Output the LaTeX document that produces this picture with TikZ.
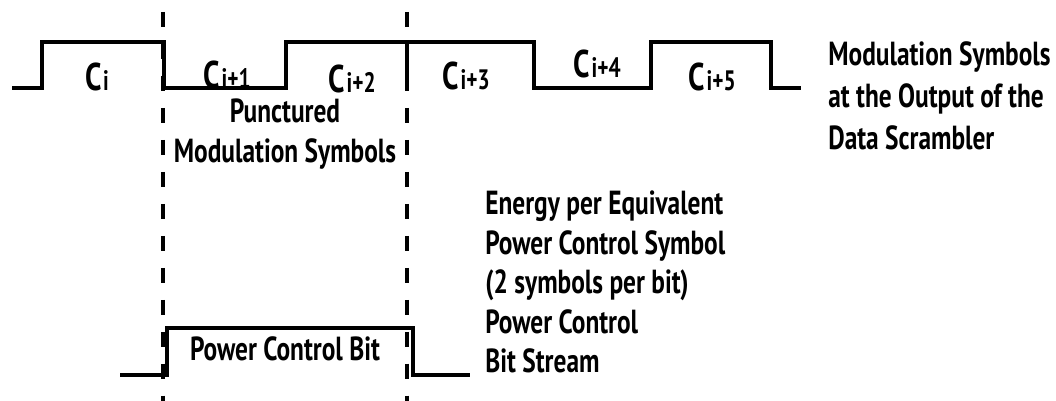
\documentclass[tikz,border=0pt]{standalone}
\usepackage{fontspec}
\setmainfont{PT Sans}[FakeStretch=0.76]
\newcommand{\modsym}[1]{C\kern1pt{\fontsize{16}{16}\selectfont #1}}
\begin{document}
\begin{tikzpicture}[
    x=0.02cm, y=-0.02cm,
    wave/.style={line width=2.3pt, line join=miter},
    cut/.style={line width=1.8pt, dash pattern=on 8.5pt off 9.7pt},
    lbl/.style={font=\bfseries\fontsize{19}{22.5}\selectfont, inner sep=0pt, align=left},
    sym/.style={font=\bfseries\fontsize{22}{22}\selectfont, inner sep=0pt}
]
\useasboundingbox (0,0) rectangle (1056,401);

% symbol boundaries
\coordinate (cutLtop) at (163,12);
\coordinate (cutLbot) at (163,401);
\coordinate (cutRtop) at (407,12);
\coordinate (cutRbot) at (407,401);
\draw[cut] (cutLtop) -- (cutLbot);
\draw[cut] (cutRtop) -- (cutRbot);
\draw[wave] (407,42) -- (407,88);

% modulation symbols
\draw[wave] (12,88) -- (42,88) -- (42,42) -- (164,42) -- (164,88) -- (286,88) -- (286,42)
  -- (534,42) -- (534,88) -- (651,88) -- (651,42) -- (771,42) -- (771,88) -- (801,88);
\node[sym] (ci) at (97,77) {\modsym{i}};
\node[sym] (ci1) at (227,75) {\modsym{i+1}};
\node[sym] (ci2) at (352,79) {\modsym{i+2}};
\node[sym] (ci3) at (466,76) {\modsym{i+3}};
\node[sym] (ci4) at (597,64) {\modsym{i+4}};
\node[sym] (ci5) at (712,77) {\modsym{i+5}};
\node[lbl, anchor=west, font=\bfseries\fontsize{19}{24}\selectfont] (scrambler) at (828,96) {Modulation Symbols\\at the Output of the\\Data Scrambler};
\node[lbl, align=center] (punct) at (285,134) {Punctured\\Modulation Symbols};

% power control bit
\draw[wave] (120,375) -- (167,375) -- (167,328) -- (413,328) -- (413,375) -- (470,375);
\node[lbl] (pcbit) at (285,349) {Power Control Bit};
\node[lbl, anchor=west] (energy) at (485,282) {Energy per Equivalent\\Power Control Symbol\\(2 symbols per bit)\\Power Control\\Bit Stream};
\end{tikzpicture}
\end{document}
